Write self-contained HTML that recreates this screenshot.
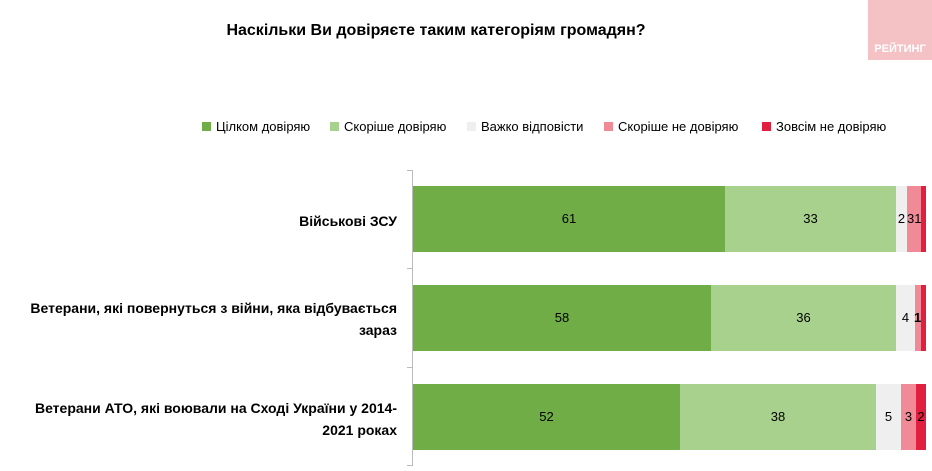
<!DOCTYPE html>
<html><head><meta charset="utf-8"><style>
body{margin:0;width:932px;height:471px;background:#fff;position:relative;overflow:hidden;font-family:"Liberation Sans",Arial,sans-serif;color:#000}
.a{position:absolute}
.t{font-weight:bold;font-size:16px;left:0;width:872px;text-align:center;top:22px}
.logo{left:868px;top:0;width:64px;height:60px;background:#f4c2c4;color:#fff;font-weight:bold;font-size:11px;text-align:center;line-height:16px}
.leg{top:119px;font-size:13px;white-space:nowrap}
.leg span{display:inline-block;width:9px;height:9px;margin-right:5px;vertical-align:0}
.bar{position:absolute;height:66px;font-size:13px;line-height:66px;text-align:center;overflow:visible}
.lab{font-weight:bold;font-size:14px;text-align:right;width:370px;left:27px;line-height:22px}
</style></head><body>
<div class="a t">Наскільки Ви довіряєте таким категоріям громадян?</div>
<div class="a logo"><div style="position:absolute;bottom:3px;width:100%">РЕЙТИНГ</div></div>
<div class="a leg" style="left:202px"><span style="background:#70ad47"></span>Цілком довіряю</div>
<div class="a leg" style="left:330px"><span style="background:#a9d18e"></span>Скоріше довіряю</div>
<div class="a leg" style="left:467px"><span style="background:#efefef"></span>Важко відповісти</div>
<div class="a leg" style="left:604px"><span style="background:#f08a96"></span>Скоріше не довіряю</div>
<div class="a leg" style="left:762px"><span style="background:#e0203e"></span>Зовсім не довіряю</div>
<div class="a" style="left:412px;top:170px;width:1px;height:296px;background:#bbb"></div>
<div class="a" style="left:407px;top:170px;width:5px;height:1px;background:#bbb"></div>
<div class="a" style="left:407px;top:268px;width:5px;height:1px;background:#bbb"></div>
<div class="a" style="left:407px;top:367px;width:5px;height:1px;background:#bbb"></div>
<div class="a" style="left:407px;top:465px;width:5px;height:1px;background:#bbb"></div>
<div class="a lab" style="top:210px">Військові ЗСУ</div>
<div class="a lab" style="top:297px">Ветерани, які повернуться з війни, яка відбувається зараз</div>
<div class="a lab" style="top:397px">Ветерани АТО, які воювали на Сході України у 2014-2021 роках</div>

<div class="bar" style="top:186px;left:413px;width:312px;background:#70ad47">61</div>
<div class="bar" style="top:186px;left:725px;width:171px;background:#a9d18e">33</div>
<div class="bar" style="top:186px;left:896px;width:11px;background:#efefef">2</div>
<div class="bar" style="top:186px;left:907px;width:14px;background:#f08a96;text-align:left">31</div>
<div class="bar" style="top:186px;left:921px;width:5px;background:#e0203e"></div>

<div class="bar" style="top:285px;left:413px;width:298px;background:#70ad47">58</div>
<div class="bar" style="top:285px;left:711px;width:185px;background:#a9d18e">36</div>
<div class="bar" style="top:285px;left:896px;width:19px;background:#efefef">4</div>
<div class="bar" style="top:285px;left:915px;width:6px;background:#f08a96"></div>
<div class="bar" style="top:285px;left:921px;width:5px;background:#e0203e"></div>
<div class="a" style="top:285px;left:914px;line-height:66px;font-size:13px;font-weight:bold">1</div>

<div class="bar" style="top:384px;left:413px;width:267px;background:#70ad47">52</div>
<div class="bar" style="top:384px;left:680px;width:196px;background:#a9d18e">38</div>
<div class="bar" style="top:384px;left:876px;width:25px;background:#efefef">5</div>
<div class="bar" style="top:384px;left:901px;width:15px;background:#f08a96">3</div>
<div class="bar" style="top:384px;left:916px;width:10px;background:#e0203e">2</div>
</body></html>
